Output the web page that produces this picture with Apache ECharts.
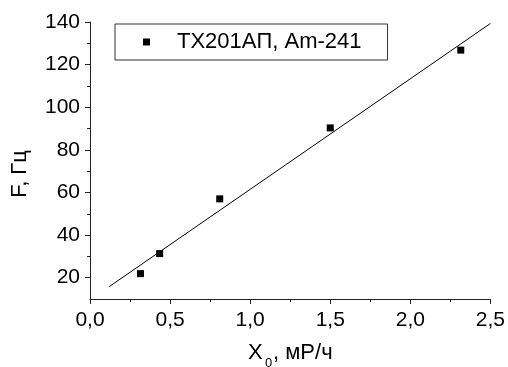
<!DOCTYPE html>
<html>
<head>
<meta charset="utf-8">
<script src="https://cdn.jsdelivr.net/npm/echarts@6/dist/echarts.min.js"></script>
<style>html,body{margin:0;padding:0;background:#fff}#c{width:508px;height:367px}</style>
</head>
<body>
<div id="c"></div>
<script>
// Data
var seriesName = 'TX201AП, Am-241';
var xValues = [0.315, 0.435, 0.81, 1.50, 2.315];
var yValues = [21.9, 31.3, 57.0, 90.3, 126.8];
var fitX = [0.12, 2.50];
var fitY = [15.8, 139.3];
var xTicks = [0, 0.5, 1.0, 1.5, 2.0, 2.5];
var yTickLabels = [20, 40, 60, 80, 100, 120, 140];
var yMinorTicks = [30, 50, 70, 90, 110, 130];

var font = '"Liberation Sans", Arial, sans-serif';
var axisColor = '#222';

var chart = echarts.init(document.getElementById('c'), null, {renderer: 'canvas'});
var scatterData = xValues.map(function (x, i) { return [x, yValues[i]]; });
var fitData = fitX.map(function (x, i) { return [x, fitY[i]]; });

chart.setOption({
  animation: false,
  backgroundColor: '#fff',
  textStyle: {fontFamily: font},
  grid: {left: 90, right: 16, top: 22, bottom: 68, containLabel: false},
  legend: {
    data: [seriesName],
    left: 115, top: 24,
    orient: 'horizontal',
    borderColor: '#333', borderWidth: 1,
    padding: [7, 26, 7, 28],
    itemWidth: 7, itemHeight: 7,
    itemStyle: {color: '#000', opacity: 1},
    textStyle: {fontFamily: font, fontSize: 22, color: '#000', padding: [0, 0, 0, 22]}
  },
  xAxis: {
    type: 'value', min: 0, max: 2.5, interval: 0.5,
    axisLine: {show: true, onZero: false, lineStyle: {color: axisColor, width: 1}},
    axisTick: {show: true, length: 5, lineStyle: {color: axisColor}},
    minorTick: {show: true, splitNumber: 2, length: 3, lineStyle: {color: axisColor}},
    splitLine: {show: false},
    axisLabel: {
      color: '#000', fontSize: 21, fontFamily: font, margin: 11,
      formatter: function (v) { return v.toFixed(1).replace('.', ','); }
    }
  },
  yAxis: [{
    type: 'value', min: 10, max: 140,
    axisLine: {show: true, onZero: false, lineStyle: {color: axisColor, width: 1}},
    axisTick: {show: true, length: 5, customValues: yTickLabels, lineStyle: {color: axisColor}},
    splitLine: {show: false},
    axisLabel: {
      color: '#000', fontSize: 21, fontFamily: font, margin: 10,
      customValues: yTickLabels,
      formatter: function (v) { return String(v); }
    }
  }, {
    type: 'value', min: 10, max: 140, position: 'left',
    axisLine: {show: false},
    axisTick: {show: true, length: 3, customValues: yMinorTicks, lineStyle: {color: axisColor}},
    splitLine: {show: false},
    axisLabel: {show: false}
  }],
  series: [{
    name: seriesName,
    type: 'scatter',
    symbol: 'rect',
    symbolSize: 7,
    itemStyle: {color: '#000', opacity: 1},
    emphasis: {disabled: true},
    data: scatterData,
    z: 3
  }, {
    name: 'fit',
    type: 'line',
    showSymbol: false,
    symbol: 'none',
    silent: true,
    lineStyle: {color: '#000', width: 1},
    data: fitData,
    z: 2
  }],
  graphic: [
    {type: 'text', x: 20, y: 174, rotation: Math.PI / 2,
     style: {text: 'F, Гц', font: '22px ' + font, fill: '#000', textAlign: 'center', textVerticalAlign: 'middle'}},
    {type: 'text', x: 248, y: 353,
     style: {text: 'X', font: '22px ' + font, fill: '#000', textAlign: 'left', textVerticalAlign: 'middle'}},
    {type: 'text', x: 265, y: 363,
     style: {text: '0', font: '13px ' + font, fill: '#000', textAlign: 'left', textVerticalAlign: 'middle'}},
    {type: 'text', x: 273, y: 353,
     style: {text: ', мР/ч', font: '22px ' + font, fill: '#000', textAlign: 'left', textVerticalAlign: 'middle'}}
  ]
});
</script>
</body>
</html>
